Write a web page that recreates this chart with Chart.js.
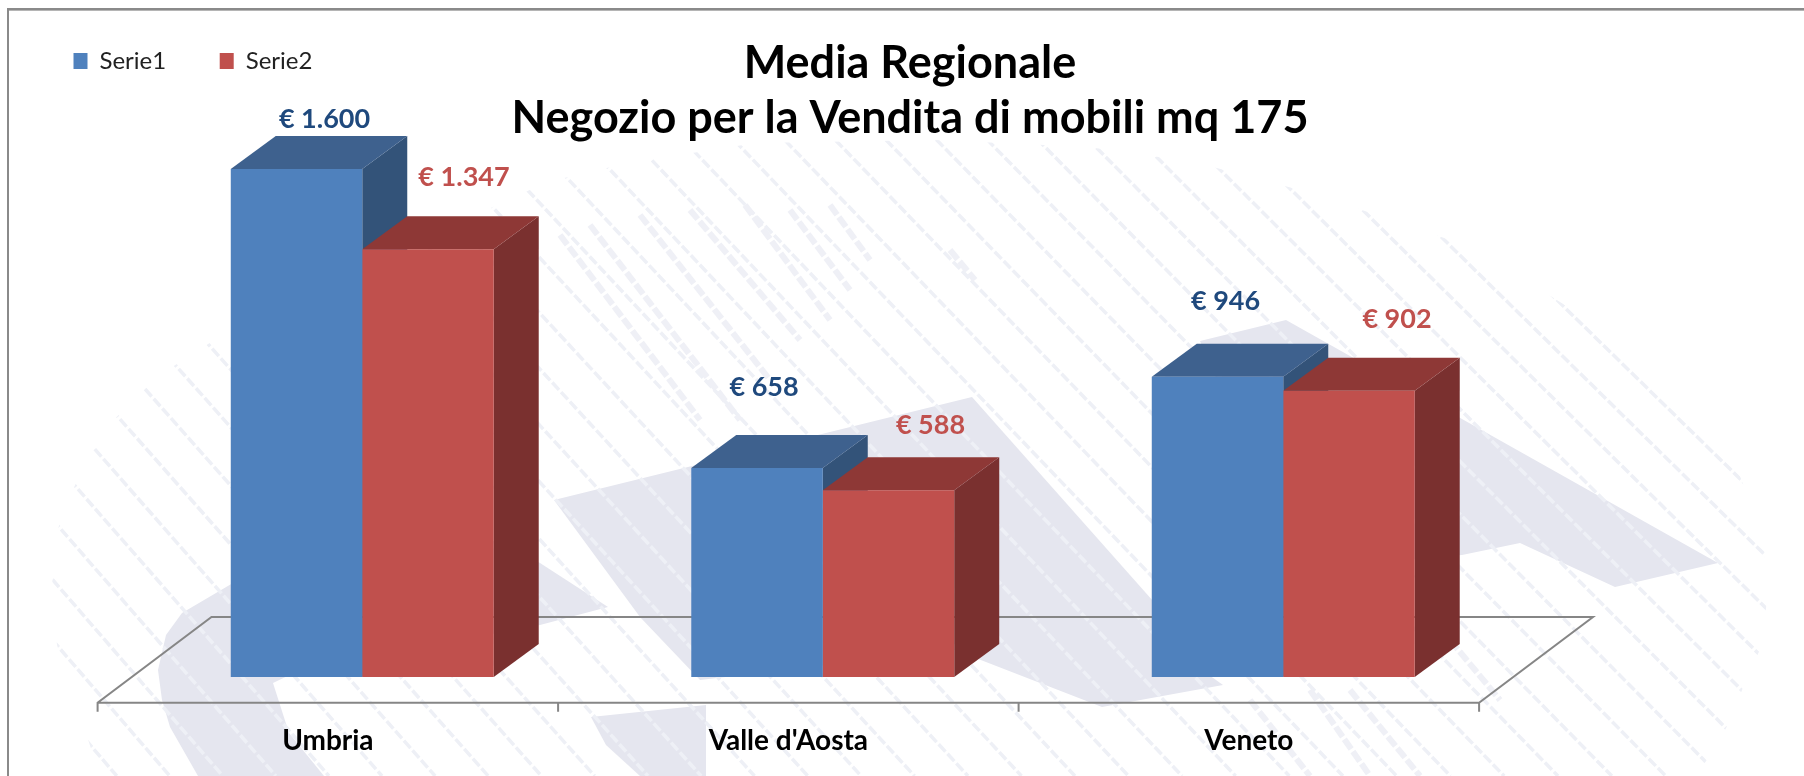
<!DOCTYPE html>
<html><head><meta charset="utf-8">
<style>html,body{margin:0;padding:0;background:#fff}canvas{display:block}</style>
<script src="https://cdn.jsdelivr.net/npm/chart.js@4"></script>
</head><body><canvas id="c" width="1804" height="776"></canvas>
<script>
const categories = ["Umbria", "Valle d'Aosta", "Veneto"];
const serie1 = [1600, 658, 946];
const serie2 = [1347, 588, 902];
const seriesNames = ["Serie1", "Serie2"];
const titleLines = ["Media Regionale", "Negozio per la Vendita di mobili mq 175"];
const valueLabels1 = ["€ 1.600", "€ 658", "€ 946"];
const valueLabels2 = ["€ 1.347", "€ 588", "€ 902"];

// hand-placed label offsets from the centre of each bar's top edge
const nudge1 = [[28,-50],[7,-81],[8,-75]];
const nudge2 = [[36,-72],[42,-65],[48,-71]];

const FONT = "Lato, Carlito, 'Open Sans', sans-serif";
const DEPTH_X = 45, DEPTH_Y = 33;
const FLOOR_FRONT = [34.4, 25.7], FLOOR_BACK = [79.5, 60];

const shapes = [
  [[233,583],[182,613],[166,635],[158,670],[162,700],[170,727],[198,776],[324,776],[289,733],[273,683],[300,670],[540,625],[608,607],[540,563],[500,540]],
  [[554,500],[972,397],[1153,601],[1160,640],[1223,685],[1102,707],[955,650],[700,680],[640,617]],
  [[591,717],[706,705],[706,776],[640,776],[606,745]],
  [[1200,341],[1286,320],[1718,563],[1615,587],[1520,543],[1462,555],[1300,570]]
];
const stripeClip = [[547,182],[628,163],[756,143],[935,140],[1088,147],[1194,162],[1315,194],[1450,240],[1528,282],[1640,352],[1730,449],[1764,541],[1767,599],[1762,645],[1744,685],[1730,721],[1712,753],[1695,776],[100,776],[57,645],[52,587],[55,537],[69,498],[86,462],[103,430],[129,405],[155,378],[230,330],[400,250]];
const thickStripes = [[560,235,700,420],[590,225,740,420],[640,215,770,380],[690,210,800,340],[745,205,830,320],[790,210,850,290],[830,205,870,260],[950,250,975,280],[1310,690,1370,776],[1350,690,1420,776],[1250,700,1310,776],[1450,640,1500,700]];

const backdrop = {
  id: 'backdrop',
  beforeDraw(chart) {
    const ctx = chart.ctx;
    ctx.save();
    ctx.fillStyle = '#ffffff';
    ctx.fillRect(0, 0, chart.width, chart.height);
    ctx.fillStyle = '#e5e6ef';
    for (const s of shapes) {
      ctx.beginPath();
      s.forEach((p, i) => i ? ctx.lineTo(p[0], p[1]) : ctx.moveTo(p[0], p[1]));
      ctx.closePath();
      ctx.fill();
    }
    ctx.save();
    ctx.beginPath();
    stripeClip.forEach((p, i) => i ? ctx.lineTo(p[0], p[1]) : ctx.moveTo(p[0], p[1]));
    ctx.closePath();
    ctx.clip();
    ctx.strokeStyle = '#eef0f6';
    ctx.lineWidth = 3.5;
    ctx.setLineDash([10, 3]);
    for (let u = -900; u < 1800; u += 50) {
      const s = 1.2 - 0.28 * (u + 900) / 2700;
      ctx.beginPath();
      ctx.moveTo(u, 0);
      ctx.lineTo(u + 776 / s, 776);
      ctx.stroke();
    }
    ctx.restore();
    ctx.strokeStyle = '#eff0f6';
    ctx.lineWidth = 6;
    ctx.setLineDash([12, 3]);
    for (const t of thickStripes) {
      ctx.beginPath(); ctx.moveTo(t[0], t[1]); ctx.lineTo(t[2], t[3]); ctx.stroke();
    }
    ctx.setLineDash([]);
    // frame
    ctx.fillStyle = '#8a8a8a';
    ctx.fillRect(7, 8, chart.width - 7, 2);
    ctx.fillRect(7, 8, 2, chart.height - 8);
    ctx.fillStyle = '#b5b5b5';
    ctx.fillRect(9, 10, chart.width - 9, 1);
    ctx.restore();
  }
};

const place = {
  id: 'place',
  afterLayout(chart) {
    const t = chart.titleBlock, l = chart.legend;
    t.left = 8; t.right = chart.width + 8; t.top = 36; t.bottom = t.top + t.height;
    l.left = 20; l.right = chart.width; l.top = -4.5; l.bottom = 100;
  }
};

const floorAndDepth = {
  id: 'floorAndDepth',
  beforeDatasetsDraw(chart) {
    const ctx = chart.ctx, x = chart.scales.x, y = chart.scales.y;
    const base = y.getPixelForValue(0);
    const frontY = base + FLOOR_FRONT[1], backY = base - FLOOR_BACK[1];
    const fl = x.left - FLOOR_FRONT[0], fr = x.right - FLOOR_FRONT[0];
    const bl = x.left + FLOOR_BACK[0], br = x.right + FLOOR_BACK[0];
    ctx.save();
    ctx.strokeStyle = '#868686';
    ctx.lineWidth = 2;
    ctx.beginPath();
    ctx.moveTo(fl, frontY + 9); ctx.lineTo(fl, frontY); ctx.lineTo(bl, backY);
    ctx.lineTo(br, backY); ctx.lineTo(fr, frontY); ctx.lineTo(fr, frontY + 9);
    ctx.moveTo(fl, frontY); ctx.lineTo(fr, frontY);
    const w = x.width / categories.length;
    for (let i = 1; i < categories.length; i++) {
      ctx.moveTo(fl + i * w, frontY); ctx.lineTo(fl + i * w, frontY + 9);
    }
    ctx.stroke();
    const faces = [['#3e618e', '#335379'], ['#8e3836', '#7a302f']];
    chart.data.datasets.forEach((d, di) => {
      chart.getDatasetMeta(di).data.forEach(bar => {
        const p = bar.getProps(['x', 'y', 'base', 'width'], true);
        const L = p.x - p.width / 2, R = p.x + p.width / 2;
        ctx.fillStyle = faces[di][1];
        ctx.beginPath();
        ctx.moveTo(R, p.y); ctx.lineTo(R + DEPTH_X, p.y - DEPTH_Y);
        ctx.lineTo(R + DEPTH_X, p.base - DEPTH_Y); ctx.lineTo(R, p.base);
        ctx.closePath(); ctx.fill();
        ctx.fillStyle = faces[di][0];
        ctx.beginPath();
        ctx.moveTo(L, p.y); ctx.lineTo(L + DEPTH_X, p.y - DEPTH_Y);
        ctx.lineTo(R + DEPTH_X, p.y - DEPTH_Y); ctx.lineTo(R, p.y);
        ctx.closePath(); ctx.fill();
      });
    });
    ctx.restore();
  },
  afterDatasetsDraw(chart) {
    const ctx = chart.ctx;
    ctx.save();
    ctx.font = "bold 27px " + FONT;
    ctx.textAlign = 'center';
    ctx.textBaseline = 'middle';
    [[valueLabels1, nudge1, '#1f497d'], [valueLabels2, nudge2, '#c0504d']].forEach((set, di) => {
      ctx.fillStyle = set[2];
      chart.getDatasetMeta(di).data.forEach((bar, i) => {
        ctx.fillText(set[0][i], bar.x + set[1][i][0], bar.y + set[1][i][1]);
      });
    });
    ctx.restore();
  }
};

new Chart(document.getElementById('c'), {
  type: 'bar',
  data: {
    labels: categories,
    datasets: [
      { label: seriesNames[0], data: serie1, backgroundColor: '#4f81bd' },
      { label: seriesNames[1], data: serie2, backgroundColor: '#c0504d' }
    ]
  },
  plugins: [backdrop, place, floorAndDepth],
  options: {
    responsive: false,
    animation: false,
    layout: { padding: { left: 132, right: 290.5, top: 10.4, bottom: 0 } },
    datasets: { bar: { barPercentage: 1, categoryPercentage: 0.571 } },
    scales: {
      x: {
        grid: { display: false, drawTicks: false },
        border: { display: false },
        afterFit(s) { s.height = 99; },
        ticks: { labelOffset: -34.4, padding: 47, maxRotation: 0, color: '#000', font: { family: FONT, size: 28, weight: 'bold' } }
      },
      y: { display: false, min: 0, max: 1750 }
    },
    plugins: {
      tooltip: { enabled: false },
      title: {
        display: true,
        text: titleLines,
        color: '#000',
        padding: 0,
        font: { family: FONT, size: 45, weight: 'bold', lineHeight: 1.2222 }
      },
      legend: {
        display: true,
        position: 'top',
        align: 'start',
        maxHeight: 1,
        labels: { boxWidth: 14, boxHeight: 16, padding: 53.5, color: '#222', font: { family: FONT, size: 24 } }
      }
    }
  }
});
</script></body></html>
